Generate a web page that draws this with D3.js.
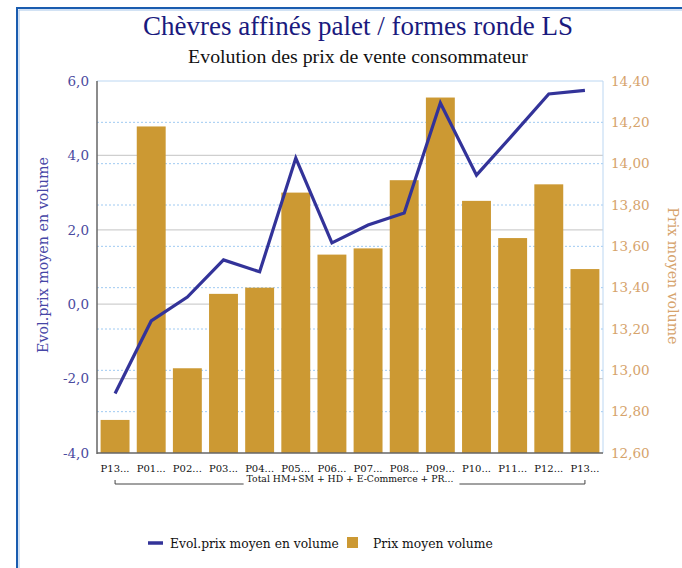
<!DOCTYPE html>
<html><head><meta charset="utf-8">
<script src="https://cdn.jsdelivr.net/npm/d3@7"></script>
<style>body{margin:0;background:#fff}svg{display:block}</style>
</head><body>
<script>
const categories = ["P13...","P01...","P02...","P03...","P04...","P05...","P06...","P07...","P08...","P09...","P10...","P11...","P12...","P13..."];
const prixMoyen = [12.76,14.18,13.01,13.37,13.40,13.86,13.56,13.59,13.92,14.32,13.82,13.64,13.90,13.49];
const evolPrix = [-2.40,-0.45,0.19,1.19,0.87,3.93,1.65,2.13,2.45,5.41,3.47,4.55,5.65,5.75];
const leftTicks = [-4,-2,0,2,4,6];
const rightTicks = [12.6,12.8,13.0,13.2,13.4,13.6,13.8,14.0,14.2,14.4];
const groupLabel = "Total HM+SM + HD + E-Commerce + PR...";

const W=682,H=568;
const m={l:97,r:603,t:81,b:453};
const tfont="'Liberation Serif','Times New Roman',serif";
const font="'DejaVu Serif',serif";
const svg=d3.select("body").append("svg").attr("width",W).attr("height",H).style("font-family",font);
function fit(sel,w){const l=sel.node().getComputedTextLength();sel.attr("font-size",(+sel.attr("font-size"))*w/l);return sel;}

// frame
svg.append("rect").attr("x",17).attr("y",8).attr("width",W+20).attr("height",H+20)
  .attr("fill","none").attr("stroke","#1a5caf").attr("stroke-width",2);
svg.append("rect").attr("x",19).attr("y",10).attr("width",W+20).attr("height",H+20)
  .attr("fill","none").attr("stroke","#8fb6e3").attr("stroke-width",0.8);

fit(svg.append("text").attr("x",358).attr("y",35).attr("text-anchor","middle").style("font-family",tfont)
  .attr("font-size",26).attr("fill","#1a1a7e").text("Chèvres affinés palet / formes ronde LS"),430);
fit(svg.append("text").attr("x",358).attr("y",63).attr("text-anchor","middle").style("font-family",tfont)
  .attr("font-size",19).attr("fill","#111").text("Evolution des prix de vente consommateur"),340);

const x=d3.scaleBand().domain(d3.range(categories.length)).range([m.l,m.r]).paddingInner(0.2).paddingOuter(0.1);
const yL=d3.scaleLinear().domain([-4,6]).range([m.b,m.t]);
const yR=d3.scaleLinear().domain([12.6,14.4]).range([m.b,m.t]);

// grids
svg.append("g").selectAll("line").data(leftTicks.slice(1,-1)).join("line")
  .attr("x1",m.l).attr("x2",m.r).attr("y1",d=>yL(d)).attr("y2",d=>yL(d))
  .attr("stroke","#cfcfcf").attr("stroke-width",1.2);
svg.append("g").selectAll("line").data(rightTicks.slice(1,-1)).join("line")
  .attr("x1",m.l).attr("x2",m.r).attr("y1",d=>yR(d)).attr("y2",d=>yR(d))
  .attr("stroke","#9fcaf2").attr("stroke-width",1).attr("stroke-dasharray","2,2");

// bars
svg.append("g").selectAll("rect").data(prixMoyen).join("rect")
  .attr("x",(d,i)=>x(i)).attr("width",x.bandwidth())
  .attr("y",d=>yR(d)).attr("height",d=>m.b-yR(d)).attr("fill","#cc9933");

// plot border
svg.append("line").attr("x1",m.l).attr("x2",m.r).attr("y1",m.t).attr("y2",m.t).attr("stroke","#bcd7f2");
svg.append("line").attr("x1",m.r).attr("x2",m.r).attr("y1",m.t).attr("y2",m.b).attr("stroke","#bcd7f2");
svg.append("line").attr("x1",m.l).attr("x2",m.l).attr("y1",m.t).attr("y2",m.b+1).attr("stroke","#666").attr("stroke-width",1.5);
svg.append("line").attr("x1",m.l).attr("x2",m.r).attr("y1",m.b).attr("y2",m.b).attr("stroke","#666").attr("stroke-width",1.5);

// line
const line=d3.line().x((d,i)=>x(i)+x.bandwidth()/2).y(d=>yL(d));
svg.append("path").datum(evolPrix).attr("d",line).attr("fill","none")
  .attr("stroke","#333399").attr("stroke-width",3.2).attr("stroke-linejoin","miter");

// left axis
const axL=svg.append("g").attr("transform",`translate(${m.l},0)`)
  .call(d3.axisLeft(yL).tickValues(leftTicks).tickSize(0).tickPadding(8).tickFormat(d=>d3.format(".1f")(d).replace(".",",").replace("−","-")));
axL.select(".domain").remove();
axL.selectAll("text").attr("font-family",font).attr("font-size",13.5).attr("fill","#4a4a9e");

const axR=svg.append("g").attr("transform",`translate(${m.r},0)`)
  .call(d3.axisRight(yR).tickValues(rightTicks).tickSize(0).tickPadding(8).tickFormat(d=>d3.format(".2f")(d).replace(".",",")));
axR.select(".domain").remove();
axR.selectAll("text").attr("font-family",font).attr("font-size",13.5).attr("fill","#d6a36c");

// axis titles
fit(svg.append("text").attr("transform","translate(48,255) rotate(-90)").attr("text-anchor","middle")
  .attr("font-size",14).attr("fill","#4646a6").text("Evol.prix moyen en volume"),196);
fit(svg.append("text").attr("transform","translate(668,276) rotate(90)").attr("text-anchor","middle")
  .attr("font-size",14).attr("fill","#d6a36c").text("Prix moyen volume"),137);

// x labels
svg.append("g").selectAll("text").data(categories).join("text")
  .attr("x",(d,i)=>x(i)+x.bandwidth()/2).attr("y",472).attr("text-anchor","middle")
  .attr("font-size",10).attr("fill","#111").text(d=>d);
const gx1=x(0)+x.bandwidth()/2, gx2=x(categories.length-1)+x.bandwidth()/2;
const gt=fit(svg.append("text").attr("x",350).attr("y",482).attr("text-anchor","middle")
  .attr("font-size",10).attr("fill","#111").text(groupLabel),207);
const bb=gt.node().getBBox();
const by=484;
svg.append("path").attr("d",`M${gx1},${by-4}V${by}H${bb.x-3}M${bb.x+bb.width+6},${by}H${gx2}V${by-4}`)
  .attr("fill","none").attr("stroke","#444").attr("stroke-width",1);

// legend
svg.append("line").attr("x1",148).attr("x2",163).attr("y1",543).attr("y2",543).attr("stroke","#333399").attr("stroke-width",3.5);
fit(svg.append("text").attr("x",170).attr("y",548).attr("font-size",13).attr("fill","#111").text("Evol.prix moyen en volume"),169);
svg.append("rect").attr("x",347).attr("y",537).attr("width",11).attr("height",11).attr("fill","#cc9933");
fit(svg.append("text").attr("x",373).attr("y",548).attr("font-size",13).attr("fill","#111").text("Prix moyen volume"),120);
</script>
</body></html>
